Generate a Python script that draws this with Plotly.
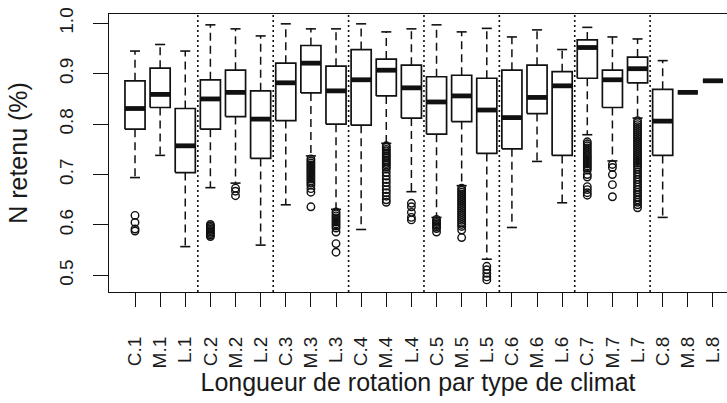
import plotly.graph_objects as go

# ---- data ----
labels = ["C.1", "M.1", "L.1", "C.2", "M.2", "L.2", "C.3", "M.3", "L.3",
          "C.4", "M.4", "L.4", "C.5", "M.5", "L.5", "C.6", "M.6", "L.6",
          "C.7", "M.7", "L.7", "C.8", "M.8", "L.8"]
upper_whisker = [0.945, 0.958, 0.945, 0.997, 0.989, 0.975, 0.999, 0.989, 0.989,
                 0.999, 0.983, 0.989, 0.997, 0.983, 0.990, 0.973, 0.987, 0.948,
                 0.992, 0.973, 0.969, 0.926, 0.863, 0.886]
q3 = [0.886, 0.911, 0.831, 0.888, 0.907, 0.866, 0.921, 0.956, 0.915,
      0.948, 0.929, 0.917, 0.894, 0.897, 0.891, 0.907, 0.917, 0.904,
      0.967, 0.907, 0.933, 0.869, 0.863, 0.886]
median = [0.831, 0.859, 0.757, 0.850, 0.863, 0.810, 0.882, 0.921, 0.866,
          0.888, 0.907, 0.872, 0.844, 0.856, 0.828, 0.813, 0.853, 0.876,
          0.952, 0.888, 0.910, 0.806, 0.863, 0.886]
q1 = [0.790, 0.833, 0.704, 0.790, 0.815, 0.732, 0.807, 0.862, 0.800,
      0.798, 0.856, 0.812, 0.780, 0.805, 0.742, 0.751, 0.821, 0.738,
      0.891, 0.833, 0.882, 0.738, 0.863, 0.886]
lower_whisker = [0.694, 0.738, 0.557, 0.674, 0.683, 0.560, 0.640, 0.737, 0.631,
                 0.591, 0.762, 0.666, 0.615, 0.678, 0.532, 0.595, 0.726, 0.644,
                 0.779, 0.727, 0.812, 0.615, 0.863, 0.886]
outliers = [
    [0.619, 0.605, 0.592, 0.588],                                   # C.1
    [],                                                             # M.1
    [],                                                             # L.1
    [0.601, 0.598, 0.595, 0.592, 0.589, 0.586, 0.583, 0.580, 0.577],  # C.2
    [0.673, 0.667, 0.658],                                          # M.2
    [],                                                             # L.2
    [],                                                             # C.3
    [0.731, 0.727, 0.723, 0.719, 0.715, 0.711, 0.707, 0.703, 0.699, 0.695,
     0.691, 0.687, 0.683, 0.679, 0.672, 0.665, 0.636],              # M.3
    [0.626, 0.622, 0.618, 0.614, 0.610, 0.606, 0.602, 0.598, 0.594, 0.586,
     0.563, 0.546],                                                 # L.3
    [],                                                             # C.4
    [0.757, 0.754, 0.750, 0.747, 0.743, 0.740, 0.736, 0.733, 0.729, 0.726,
     0.722, 0.719, 0.715, 0.711, 0.704, 0.697, 0.690, 0.684, 0.677, 0.670,
     0.664, 0.657, 0.650, 0.645],                                   # M.4
    [0.643, 0.636, 0.625, 0.615, 0.610],                            # L.4
    [0.611, 0.608, 0.605, 0.602, 0.599, 0.596, 0.593, 0.586],       # C.5
    [0.673, 0.669, 0.665, 0.661, 0.657, 0.653, 0.649, 0.645, 0.641, 0.637,
     0.633, 0.629, 0.625, 0.621, 0.617, 0.613, 0.609, 0.605, 0.601, 0.597,
     0.590, 0.575],                                                 # M.5
    [0.518, 0.511, 0.504, 0.497, 0.491],                            # L.5
    [],                                                             # C.6
    [],                                                             # M.6
    [],                                                             # L.6
    [0.765, 0.761, 0.757, 0.753, 0.749, 0.745, 0.741, 0.737, 0.733, 0.729,
     0.725, 0.721, 0.717, 0.713, 0.709, 0.700, 0.695, 0.676, 0.670, 0.664,
     0.659],                                                        # C.7
    [0.720, 0.714, 0.700, 0.680, 0.656],                            # M.7
    [0.807, 0.803, 0.799, 0.795, 0.791, 0.787, 0.783, 0.779, 0.775, 0.771,
     0.767, 0.763, 0.759, 0.755, 0.751, 0.747, 0.743, 0.739, 0.735, 0.731,
     0.727, 0.723, 0.719, 0.715, 0.710, 0.705, 0.700, 0.695, 0.690, 0.685,
     0.680, 0.675, 0.670, 0.665, 0.660, 0.655, 0.650, 0.645, 0.640, 0.634],  # L.7
    [],                                                             # C.8
    [],                                                             # M.8
    [],                                                             # L.8
]
y_ticks = [0.5, 0.6, 0.7, 0.8, 0.9, 1.0]
group_size = 3
x_title = "Longueur de rotation par type de climat"
y_title = "N retenu (%)"

# ---- styling ----
FONT = "Liberation Sans, Arial, sans-serif"
INK = "#111111"
HALF = 0.4     # half box width (R boxwex 0.8)
CAP = 0.2      # half staple width

pos = list(range(1, len(labels) + 1))

box_x, box_y = [], []
wh_x, wh_y = [], []
cap_x, cap_y = [], []
med_x, med_y = [], []
out_x, out_y = [], []
for i, p in enumerate(pos):
    box_x += [p - HALF, p + HALF, p + HALF, p - HALF, p - HALF, None]
    box_y += [q1[i], q1[i], q3[i], q3[i], q1[i], None]
    wh_x += [p, p, None, p, p, None]
    wh_y += [q3[i], upper_whisker[i], None, q1[i], lower_whisker[i], None]
    cap_x += [p - CAP, p + CAP, None, p - CAP, p + CAP, None]
    cap_y += [upper_whisker[i], upper_whisker[i], None,
              lower_whisker[i], lower_whisker[i], None]
    med_x += [p - HALF, p + HALF, None]
    med_y += [median[i], median[i], None]
    out_x += [p] * len(outliers[i])
    out_y += outliers[i]

fig = go.Figure()
fig.add_trace(go.Scatter(x=wh_x, y=wh_y, mode="lines", hoverinfo="skip",
                         line=dict(color=INK, width=1.5, dash="8px,5px")))
fig.add_trace(go.Scatter(x=cap_x, y=cap_y, mode="lines", hoverinfo="skip",
                         line=dict(color=INK, width=1.6)))
fig.add_trace(go.Scatter(x=box_x, y=box_y, mode="lines", hoverinfo="skip",
                         line=dict(color=INK, width=1.7)))
fig.add_trace(go.Scatter(x=med_x, y=med_y, mode="lines", hoverinfo="skip",
                         line=dict(color=INK, width=4.8)))
fig.add_trace(go.Scatter(x=out_x, y=out_y, mode="markers", hoverinfo="skip",
                         marker=dict(symbol="circle-open", size=7.5, color=INK,
                                     line=dict(width=1.4, color=INK))))

# dotted separators between climate groups
for g in range(1, len(labels) // group_size):
    fig.add_vline(x=g * group_size + 0.5, line=dict(color=INK, width=1.6, dash="2px,3px"))

fig.update_layout(
    width=727, height=403,
    margin=dict(l=109, r=0, t=14, b=111),
    paper_bgcolor="white", plot_bgcolor="white",
    showlegend=False,
    font=dict(family=FONT, color="#1a1a1a", size=19),
)
fig.update_xaxes(
    automargin=False,
    range=[-0.035, 24.56], tickmode="array", tickvals=pos, ticktext=labels,
    tickangle=-90, ticks="outside", ticklen=14, tickwidth=1.2, tickcolor=INK,
    showline=True, linecolor=INK, linewidth=1.2, mirror=True,
    showgrid=False, zeroline=False, ticklabelstandoff=22,
    tickfont=dict(size=19),
    title=dict(text=x_title, font=dict(size=25), standoff=6),
)
fig.update_yaxes(
    automargin=False,
    range=[0.467, 1.0185], tickmode="array", tickvals=y_ticks,
    ticktext=[f"{v:.1f}" for v in y_ticks],
    tickangle=-90, ticks="outside", ticklen=15, tickwidth=1.2, tickcolor=INK,
    showline=True, linecolor=INK, linewidth=1.2,
    showgrid=False, zeroline=False, ticklabelstandoff=12,
    tickfont=dict(size=19),
    title=dict(text=y_title, font=dict(size=25), standoff=21),
)

# remove the browser's default body margin so the figure starts at the page corner
fig.write_html("out.html", config={"displayModeBar": False},
               post_script="document.body.style.margin='0';")
